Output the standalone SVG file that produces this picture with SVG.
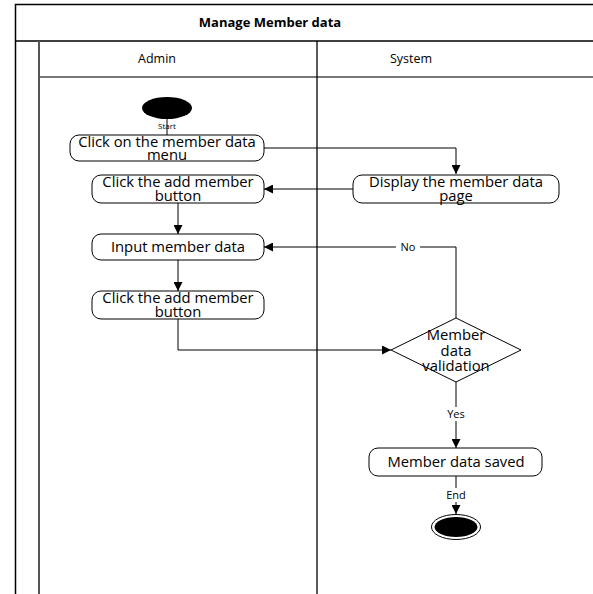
<svg xmlns="http://www.w3.org/2000/svg" width="593" height="594" viewBox="0 0 593 594">
<style>
text{font-family:"Open Sans","Liberation Sans",sans-serif;fill:#000;text-anchor:middle}
.h{font-size:12.5px}
.t{font-size:14.8px}
.s{font-size:8px}
.l{font-size:11px}
.node{fill:#fff;stroke:#000;stroke-width:1}
.c{fill:none;stroke:#000;stroke-width:1}
</style>
<defs>
<marker id="ah" viewBox="0 0 10 10" refX="10" refY="5" markerWidth="9" markerHeight="9" markerUnits="userSpaceOnUse" orient="auto">
<path d="M0,0 L10,5 L0,10 z" fill="#000"/>
</marker>
</defs>
<rect width="593" height="594" fill="#fff"/>
<g id="pool">
<path d="M15.5,600 V4.5 H600" fill="none" stroke="#000" stroke-width="1.5"/>
<line x1="15" y1="41" x2="600" y2="41" stroke="#000" stroke-width="1.5"/>
<line x1="39" y1="77" x2="600" y2="77" stroke="#777" stroke-width="2"/>
<line x1="39" y1="41" x2="39" y2="600" stroke="#555" stroke-width="2"/>
<line x1="317" y1="41" x2="317" y2="600" stroke="#000" stroke-width="1.3"/>
<text x="270" y="27" style="font-weight:bold;font-size:13px">Manage Member data</text>
<text class="h" x="157" y="63">Admin</text>
<text class="h" x="411" y="63">System</text>
</g>
<g id="connectors">
<line class="c" x1="167" y1="119" x2="167" y2="135"/>
<path class="c" d="M264,148 H456 V174" marker-end="url(#ah)"/>
<path class="c" d="M353,189 H264" marker-end="url(#ah)"/>
<path class="c" d="M178,203 V234" marker-end="url(#ah)"/>
<path class="c" d="M178,260 V291" marker-end="url(#ah)"/>
<path class="c" d="M178,319 V350 H391" marker-end="url(#ah)"/>
<path class="c" d="M456,318 V247 H264" marker-end="url(#ah)"/>
<path class="c" d="M456,382 V448" marker-end="url(#ah)"/>
<path class="c" d="M456,476 V514" marker-end="url(#ah)"/>
<rect x="396" y="241" width="24" height="12" fill="#fff"/>
<text class="l" x="408" y="251">No</text>
<rect x="443" y="407" width="26" height="14" fill="#fff"/>
<text class="l" x="456" y="418">Yes</text>
<rect x="443" y="488" width="26" height="14" fill="#fff"/>
<text class="l" x="456" y="499">End</text>
</g>
<g id="start">
<ellipse cx="167" cy="108" rx="25" ry="11" fill="#000"/>
<text class="s" x="167" y="129">Start</text>
</g>
<g id="n1">
<rect class="node" x="70" y="135" width="194" height="26" rx="9"/>
<text class="t" x="167" y="147">Click on the member data</text>
<text class="t" x="167" y="160">menu</text>
</g>
<g id="n2">
<rect class="node" x="353" y="175" width="206" height="28" rx="9"/>
<text class="t" x="456" y="187">Display the member data</text>
<text class="t" x="456" y="201">page</text>
</g>
<g id="n3">
<rect class="node" x="92" y="175" width="172" height="28" rx="9"/>
<text class="t" x="178" y="187">Click the add member</text>
<text class="t" x="178" y="201">button</text>
</g>
<g id="n4">
<rect class="node" x="92" y="234" width="172" height="26" rx="9"/>
<text class="t" x="178" y="252">Input member data</text>
</g>
<g id="n5">
<rect class="node" x="92" y="291" width="172" height="28" rx="9"/>
<text class="t" x="178" y="303">Click the add member</text>
<text class="t" x="178" y="317">button</text>
</g>
<g id="decision">
<polygon class="node" points="456,318 521,350 456,382 391,350"/>
<text class="t" x="456" y="340">Member</text>
<text class="t" x="456" y="356">data</text>
<text class="t" x="456" y="371">validation</text>
</g>
<g id="n6">
<rect class="node" x="369" y="448" width="173" height="28" rx="9"/>
<text class="t" x="456" y="467">Member data saved</text>
</g>
<g id="end">
<ellipse cx="456" cy="527" rx="24.5" ry="12.5" fill="#fff" stroke="#000" stroke-width="1"/>
<ellipse cx="456" cy="527" rx="21.5" ry="10" fill="#000"/>
</g>
</svg>
